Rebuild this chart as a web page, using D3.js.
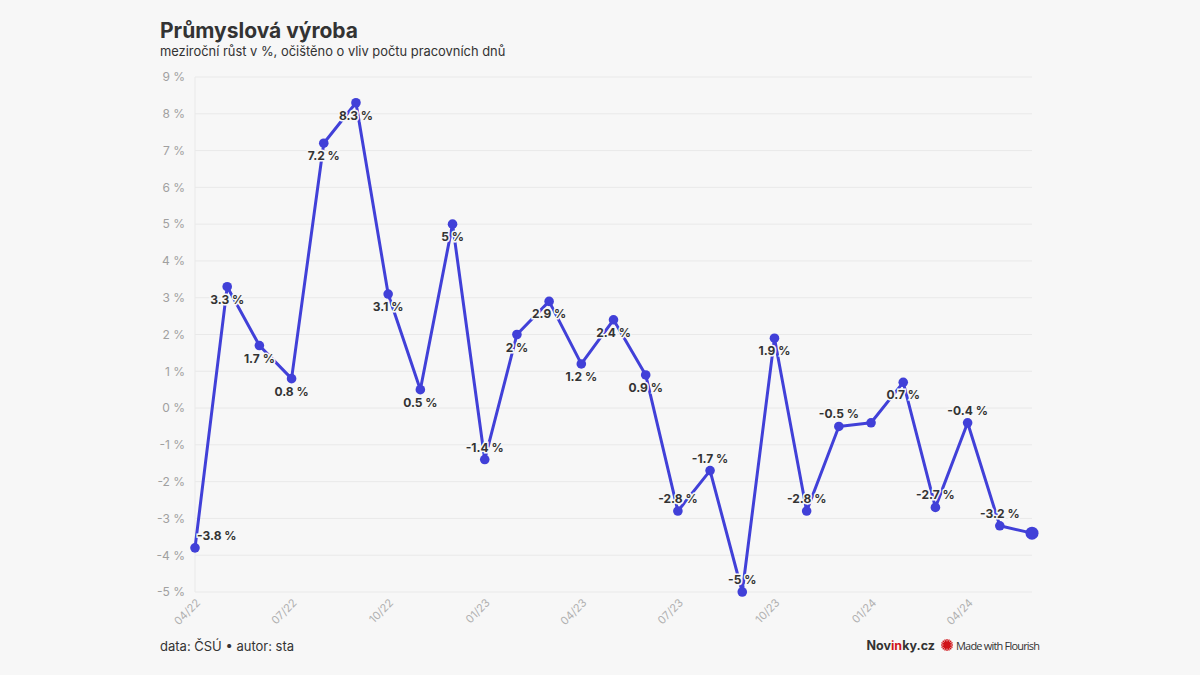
<!DOCTYPE html>
<html><head><meta charset="utf-8">
<script src="https://cdn.jsdelivr.net/npm/d3@7"></script>
<style>
html,body{margin:0;padding:0;background:#f7f7f7;}
svg{display:block;font-family:Inter,"Noto Sans",sans-serif;}
</style></head>
<body>
<svg id="c" width="1200" height="675"></svg>
<script>
const months = ["04/22","05/22","06/22","07/22","08/22","09/22","10/22","11/22","12/22",
  "01/23","02/23","03/23","04/23","05/23","06/23","07/23","08/23","09/23","10/23","11/23","12/23",
  "01/24","02/24","03/24","04/24","05/24","06/24"];
const values = [-3.8,3.3,1.7,0.8,7.2,8.3,3.1,0.5,5,-1.4,2,2.9,1.2,2.4,0.9,-2.8,-1.7,-5,1.9,-2.8,-0.5,-0.4,0.7,-2.7,-0.4,-3.2,-3.4];
const labelShown = [1,1,1,1,1,1,1,1,1,1,1,1,1,1,1,1,1,1,1,1,1,0,1,1,1,1,0];
const yTicks = [-5,-4,-3,-2,-1,0,1,2,3,4,5,6,7,8,9];
const xTickLabels = ["04/22","07/22","10/22","01/23","04/23","07/23","10/23","01/24","04/24"];

(function(){
const svg = d3.select("#c");
const mLeft = 195, mRight = 1032, mTop = 77, mBottom = 592;
const x = d3.scalePoint().domain(months).range([mLeft, mRight]);
const y = d3.scaleLinear().domain([-5, 9]).range([mBottom, mTop]);
const fmt = v => String(v) + " %";

svg.append("rect").attr("width",1200).attr("height",675).attr("fill","#f7f7f7");

// title
svg.append("text").attr("x",160).attr("y",38).attr("font-size",21).attr("font-weight",700)
  .attr("fill","#333").text("Průmyslová výroba");
svg.append("text").attr("x",160).attr("y",56).attr("font-size",12.9).attr("fill","#333")
  .text("meziroční růst v %, očištěno o vliv počtu pracovních dnů");

// grid
const grid = svg.append("g");
grid.selectAll("line.h").data(yTicks).join("line")
  .attr("x1",mLeft).attr("x2",mRight).attr("y1",d=>y(d)).attr("y2",d=>y(d))
  .attr("stroke","#e9e9e9").attr("stroke-width",1);
grid.append("line").attr("x1",mLeft).attr("x2",mLeft).attr("y1",mTop).attr("y2",mBottom)
  .attr("stroke","#e9e9e9");

// y axis
const yAxis = d3.axisLeft(y).tickValues(yTicks).tickSize(0).tickPadding(0).tickFormat(fmt);
svg.append("g").attr("transform",`translate(${mLeft-10},0)`).call(yAxis)
  .call(g=>g.select(".domain").remove())
  .call(g=>g.selectAll("text").attr("fill","#a0a0a0").attr("font-size",12).attr("font-family","Inter,sans-serif"));

// x axis
const xAxis = d3.axisBottom(x).tickValues(xTickLabels).tickSize(0).tickPadding(0);
svg.append("g").attr("transform",`translate(0,${mBottom+6})`).call(xAxis)
  .call(g=>g.select(".domain").remove())
  .call(g=>g.selectAll("text").attr("fill","#b0b0b0").attr("font-size",11)
    .attr("font-family","Inter,sans-serif")
    .attr("text-anchor","end").attr("dy","0.7em")
    .attr("transform","rotate(-45)"));

// line
const color = "#4140d8";
const line = d3.line().x((d,i)=>x(months[i])).y(d=>y(d));
svg.append("path").datum(values).attr("d",line).attr("fill","none")
  .attr("stroke",color).attr("stroke-width",3).attr("stroke-linejoin","round");

// dots
svg.append("g").selectAll("circle").data(values).join("circle")
  .attr("cx",(d,i)=>x(months[i])).attr("cy",d=>y(d))
  .attr("r",(d,i)=>i===values.length-1?6.5:4.8).attr("fill",color);

// labels
svg.append("g").selectAll("text").data(values.map((v,i)=>({v,i})).filter(d=>labelShown[d.i]))
  .join("text")
  .attr("x",d=>x(months[d.i]) + (d.i===0?2:0))
  .attr("y",d=>d.v>=0 ? y(d.v)+17 : y(d.v)-8)
  .attr("text-anchor",d=>d.i===0?"start":"middle")
  .attr("font-size",12).attr("font-weight",700).attr("fill","#333")
  .attr("stroke","#f7f7f7").attr("stroke-width",3).attr("paint-order","stroke")
  .text(d=>fmt(d.v));

// footer
svg.append("text").attr("x",160).attr("y",651).attr("font-size",13).attr("fill","#333")
  .text("data: ČSÚ • autor: sta");
const nv = svg.append("text").attr("x",935).attr("y",650).attr("text-anchor","end")
  .attr("font-size",12.5).attr("font-weight",700).attr("fill","#333");
nv.append("tspan").text("Nov");
nv.append("tspan").attr("fill","#d0141a").text("in");
nv.append("tspan").text("ky.cz");
const ic = svg.append("g").attr("transform","translate(947,645)");
ic.selectAll("line").data(d3.range(16)).join("line")
  .attr("x1",0).attr("y1",0)
  .attr("x2",d=>Math.cos(d/16*2*Math.PI)*6).attr("y2",d=>Math.sin(d/16*2*Math.PI)*6)
  .attr("stroke","#d0141a").attr("stroke-width",1.3);
ic.append("circle").attr("r",3.5).attr("fill","#d0141a");
svg.append("text").attr("x",956).attr("y",649.5).attr("font-size",11).attr("fill","#333")
  .attr("font-family","'Liberation Sans Narrow','Open Sans',sans-serif").attr("textLength",84)
  .text("Made with Flourish");
})();
</script>
</body></html>
